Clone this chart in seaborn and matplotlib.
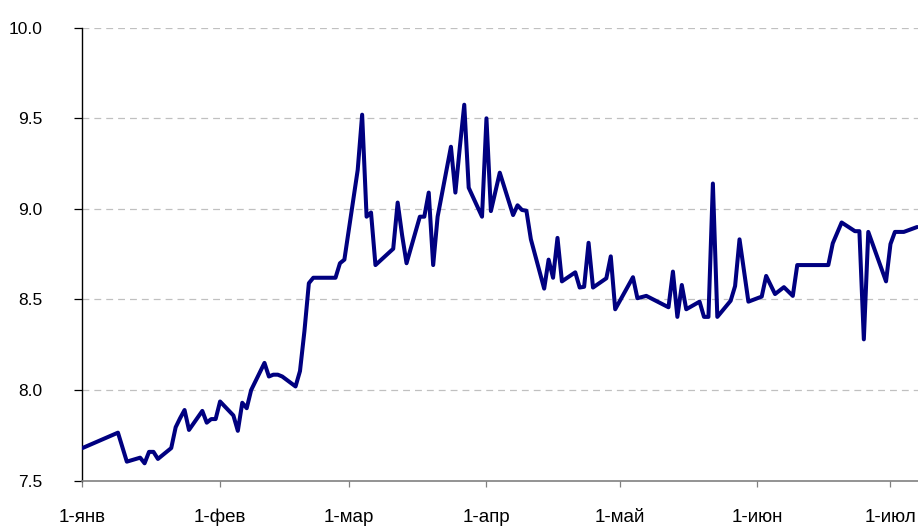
import pandas as pd
import numpy as np
import matplotlib
matplotlib.use("Agg")
import matplotlib.pyplot as plt
import matplotlib.dates as mdates
import seaborn as sns

# values (2008, daily)
dates = [
    "01-01", "01-09", "01-11", "01-14", "01-15", "01-16", "01-17", "01-18",
    "01-21", "01-22", "01-23", "01-24", "01-25", "01-28", "01-29", "01-30",
    "01-31", "02-01", "02-04", "02-05", "02-06", "02-07", "02-08", "02-11",
    "02-12", "02-13", "02-14", "02-15", "02-18", "02-19", "02-20", "02-21",
    "02-22", "02-25", "02-26", "02-27", "02-28", "02-29", "03-03", "03-04",
    "03-05", "03-06", "03-07", "03-11", "03-12", "03-13", "03-14", "03-17",
    "03-18", "03-19", "03-20", "03-21", "03-24", "03-25", "03-26", "03-27",
    "03-28", "03-31", "04-01", "04-02", "04-04", "04-07", "04-08", "04-09",
    "04-10", "04-11", "04-14", "04-15", "04-16", "04-17", "04-18", "04-21",
    "04-22", "04-23", "04-24", "04-25", "04-28", "04-29", "04-30", "05-04",
    "05-05", "05-07", "05-12", "05-13", "05-14", "05-15", "05-16", "05-19",
    "05-20", "05-21", "05-22", "05-23", "05-26", "05-27", "05-28", "05-30",
    "06-02", "06-03", "06-05", "06-07", "06-09", "06-10", "06-17", "06-18",
    "06-20", "06-23", "06-24", "06-25", "06-26", "06-30", "07-01", "07-02",
    "07-04", "07-07",
]
values = [
    7.68, 7.765, 7.605, 7.627, 7.596, 7.659, 7.659, 7.62,
    7.68, 7.795, 7.845, 7.89, 7.78, 7.885, 7.82, 7.84,
    7.84, 7.937, 7.86, 7.775, 7.93, 7.90, 8.00, 8.15,
    8.075, 8.085, 8.085, 8.075, 8.02, 8.105, 8.325, 8.59,
    8.62, 8.62, 8.62, 8.62, 8.70, 8.72, 9.215, 9.52,
    8.957, 8.98, 8.69, 8.78, 9.035, 8.855, 8.70, 8.957,
    8.957, 9.09, 8.69, 8.957, 9.343, 9.09, 9.34, 9.575,
    9.117, 8.957, 9.50, 8.988, 9.20, 8.966, 9.02, 8.994,
    8.99, 8.833, 8.56, 8.72, 8.62, 8.84, 8.60, 8.65,
    8.566, 8.57, 8.813, 8.566, 8.617, 8.738, 8.446, 8.623,
    8.507, 8.52, 8.457, 8.654, 8.404, 8.58, 8.446, 8.488,
    8.404, 8.404, 9.14, 8.404, 8.493, 8.574, 8.832, 8.488,
    8.516, 8.63, 8.53, 8.568, 8.52, 8.69, 8.69, 8.81,
    8.925, 8.877, 8.877, 8.28, 8.873, 8.60, 8.806, 8.873,
    8.873, 8.90,
]
month_starts = ["01-01", "02-01", "03-01", "04-01", "05-01", "06-01", "07-01"]
month_labels = ["1-янв", "1-фев", "1-мар", "1-апр", "1-май", "1-июн", "1-июл"]
y_ticks = [7.5, 8.0, 8.5, 9.0, 9.5, 10.0]

df = pd.DataFrame({
    "date": pd.to_datetime(["2008-" + d for d in dates]),
    "value": values,
})

sns.set_theme(style="white")
plt.rcParams['font.family'] = ['Liberation Sans', 'DejaVu Sans']

fig = plt.figure(figsize=(9.18, 5.27), dpi=100)
ax = fig.add_axes([0.0898, 0.0879, 1.0 - 0.0898, 0.9474 - 0.0879])

# dashed grid lines first, under the series
for yv in y_ticks[1:]:
    ax.axhline(yv, color="#c0c0c0", lw=0.9, linestyle=(0, (5.5, 4)), zorder=1)

sns.lineplot(data=df, x="date", y="value", ax=ax, color="#000080",
             lw=2.9, zorder=3, legend=False)

start = pd.Timestamp("2008-01-01")
ax.set_xlim(start, start + pd.Timedelta(days=188.2))
ax.set_ylim(7.5, 10.0)

ax.set_xticks(pd.to_datetime(["2008-" + m for m in month_starts]))
ax.set_xticklabels(month_labels, fontsize=13.5)
ax.set_yticks(y_ticks)
ax.set_yticklabels([f"{v:.1f}" for v in y_ticks])

ax.set_xlabel("")
ax.set_ylabel("")

for side in ["top", "right"]:
    ax.spines[side].set_visible(False)
ax.spines["left"].set_color("black")
ax.spines["left"].set_linewidth(1.0)
ax.spines["bottom"].set_color("#808080")
ax.spines["bottom"].set_linewidth(1.2)

ax.tick_params(axis="y", direction="out", length=5.5, width=0.9, color="black",
               pad=23, labelsize=12.5, labelcolor="black", left=True)
ax.tick_params(axis="x", direction="out", length=4.5, width=0.9, color="#808080",
               pad=25, labelcolor="black", bottom=True)

# same baseline for every month label
for lbl in ax.get_xticklabels():
    lbl.set_verticalalignment("baseline")

fig.savefig("out.png", dpi=100)
